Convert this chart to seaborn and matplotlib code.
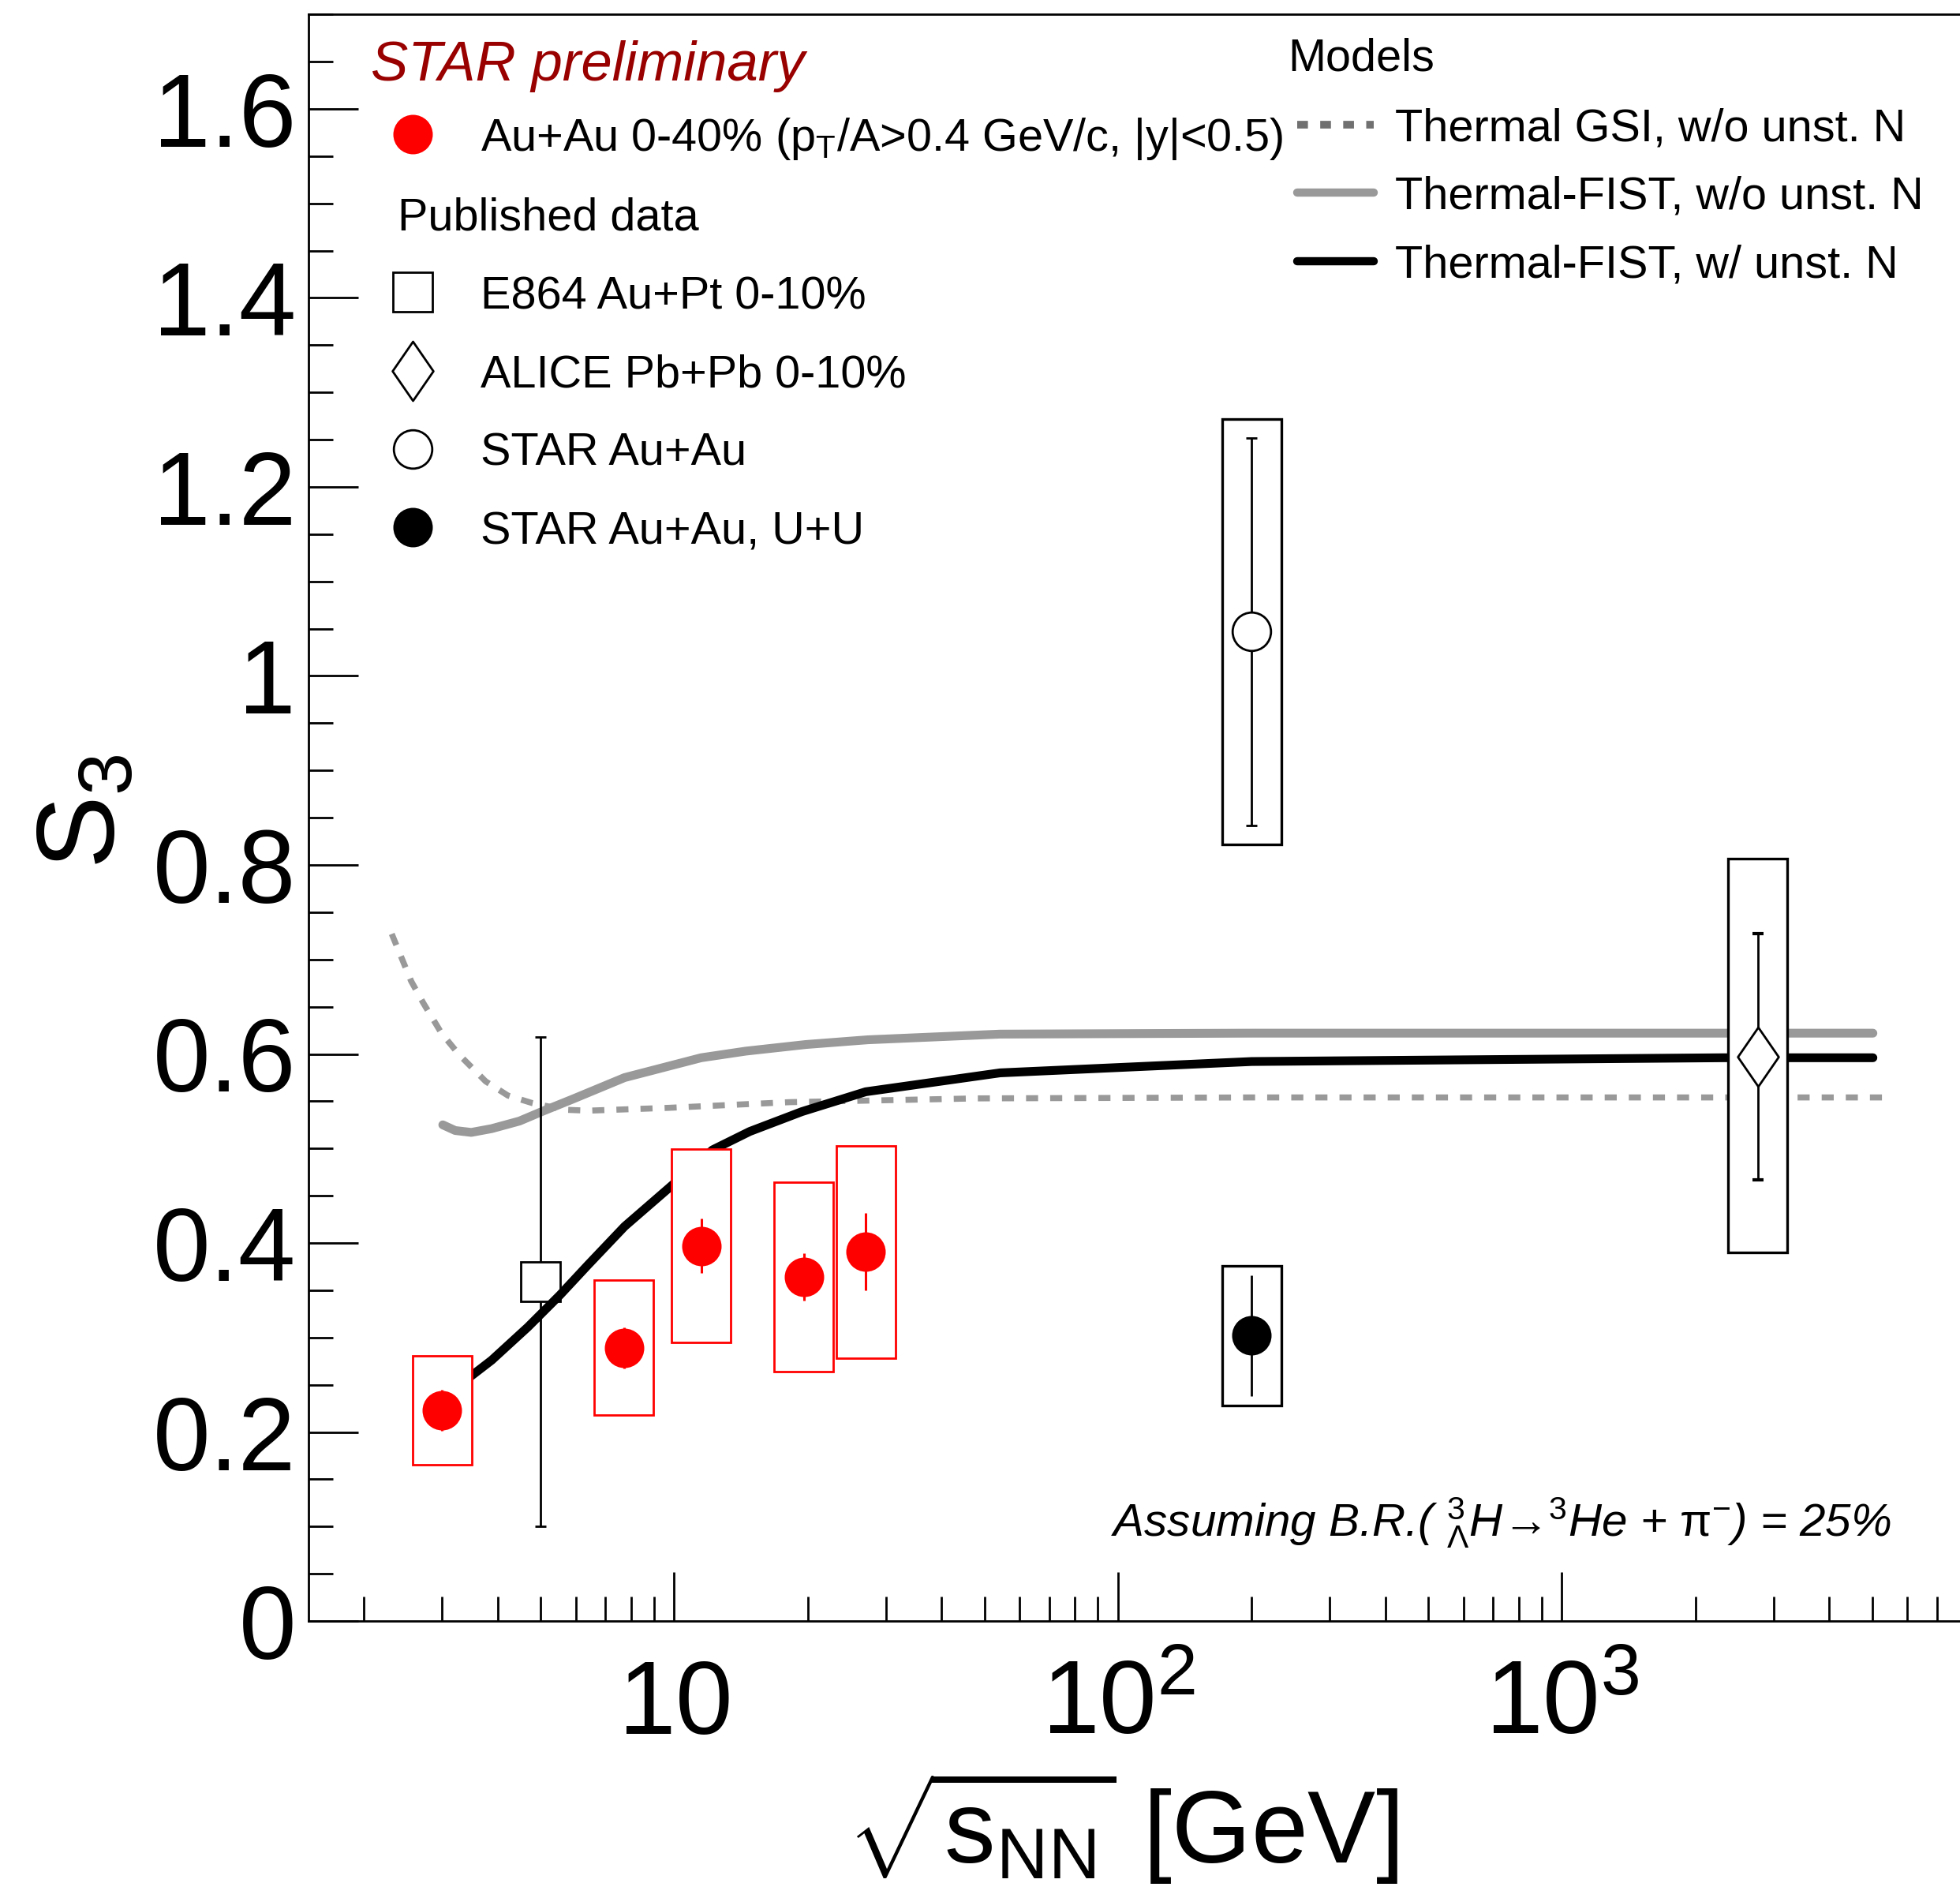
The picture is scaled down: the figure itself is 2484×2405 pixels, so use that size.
import matplotlib
matplotlib.use('Agg')
import matplotlib.pyplot as plt
import numpy as np
import seaborn as sns
from matplotlib.lines import Line2D
from matplotlib.path import Path
from matplotlib.ticker import MultipleLocator, FuncFormatter, LogLocator, NullFormatter

# STAR preliminary Au+Au 0-40%
star_x = [3.0, 7.7, 11.5, 19.6, 27.0]
star_y = [0.223, 0.289, 0.397, 0.364, 0.391]
star_stat = [0.022, 0.022, 0.029, 0.025, 0.041]
star_sys_lo = [0.165, 0.218, 0.295, 0.264, 0.278]
star_sys_hi = [0.281, 0.361, 0.499, 0.464, 0.503]

# published data
e864_x, e864_y, e864_err = [5.0], [0.359], [0.259]
alice_x, alice_y, alice_err = [2760.0], [0.597], [0.13]
alice_sys_lo, alice_sys_hi = [0.39], [0.807]
staro_x, staro_y, staro_err = [200.0], [1.047], [0.205]
staro_sys_lo, staro_sys_hi = [0.822], [1.272]
starf_x, starf_y, starf_err = [200.0], [0.302], [0.064]
starf_sys_lo, starf_sys_hi = [0.228], [0.376]

# models
gsi_x = [2.31, 2.555, 2.72, 2.99, 3.28, 3.76, 4.22, 4.79, 5.65, 6.40, 9.72, 18.2, 48.3, 200, 5400]
gsi_y = [0.727, 0.677, 0.654, 0.622, 0.599, 0.571, 0.556, 0.548, 0.541, 0.540, 0.543, 0.549, 0.553, 0.554, 0.554]
fist_wo_x = [3.01, 3.21, 3.49, 3.88, 4.48, 5.09, 5.89, 7.73, 11.5, 14.5, 19.8, 27.3, 54.2, 200, 5020]
fist_wo_y = [0.525, 0.519, 0.517, 0.521, 0.529, 0.540, 0.552, 0.575, 0.596, 0.603, 0.610, 0.615, 0.621, 0.622, 0.622]
fist_w_x = [3.46, 3.88, 4.68, 5.53, 6.40, 7.73, 9.72, 12.2, 14.8, 19.4, 27.0, 54.2, 200, 2311, 5020]
fist_w_y = [0.258, 0.276, 0.311, 0.345, 0.377, 0.4175, 0.458, 0.4985, 0.518, 0.539, 0.560, 0.580, 0.592, 0.596, 0.596]

sns.set_theme(style='ticks')
plt.rcParams['font.family'] = ['Liberation Sans', 'DejaVu Sans']
plt.rcParams.update({
    'mathtext.fontset': 'custom',
    'mathtext.rm': 'Liberation Sans',
    'mathtext.it': 'Liberation Sans:italic',
    'mathtext.bf': 'Liberation Sans:bold',
    'axes.edgecolor': 'black', 'text.color': 'black',
    'xtick.color': 'black', 'ytick.color': 'black',
})

W, H = 2484, 2405
fig = plt.figure(figsize=(W / 100, H / 100), dpi=100)
ax = fig.add_axes([391 / W, 351 / H, 2109 / W, 2035.75 / H])
ax.set_xscale('log')
ax.set_xlim(1.5, 8420)
ax.set_ylim(0, 1.7)

# model curves
sns.lineplot(x=gsi_x, y=gsi_y, ax=ax, color='#999999', lw=5.5, linestyle=(0, (2.0, 2.0)),
             estimator=None, sort=False, zorder=1.5)
sns.lineplot(x=fist_wo_x, y=fist_wo_y, ax=ax, color='#999999', lw=8,
             estimator=None, sort=False, zorder=1.6)
sns.lineplot(x=fist_w_x, y=fist_w_y, ax=ax, color='black', lw=8,
             estimator=None, sort=False, zorder=2.4)

# systematic boxes
f = 1.166


def sys_boxes(x, lo, hi, col, lw):
    x = np.array(x)
    lo = np.array(lo)
    hi = np.array(hi)
    ax.bar(x / f, hi - lo, width=x * f - x / f, bottom=lo, align='edge',
           facecolor='white', edgecolor=col, linewidth=lw, zorder=3)


sys_boxes(star_x, star_sys_lo, star_sys_hi, 'red', 2.0)
sys_boxes(alice_x, alice_sys_lo, alice_sys_hi, 'black', 2.4)
sys_boxes(staro_x, staro_sys_lo, staro_sys_hi, 'black', 2.4)
sys_boxes(starf_x, starf_sys_lo, starf_sys_hi, 'black', 2.4)

diamond = Path([(0, 1), (0.69, 0), (0, -1), (-0.69, 0), (0, 1)],
               [Path.MOVETO, Path.LINETO, Path.LINETO, Path.LINETO, Path.CLOSEPOLY])

ax.errorbar(star_x, star_y, yerr=star_stat, fmt='o', color='red', ms=36, mew=0,
            elinewidth=2.2, capsize=4.5, capthick=3, zorder=4)
ax.errorbar(e864_x, e864_y, yerr=e864_err, fmt='s', color='black', ms=36, mfc='white',
            mec='black', mew=2, elinewidth=2, capsize=5, capthick=3, zorder=2.2)
ax.errorbar(alice_x, alice_y, yerr=alice_err, fmt='none', ecolor='black',
            elinewidth=2, capsize=5, capthick=3, zorder=4)
ax.plot(alice_x, alice_y, ls='none', marker=diamond, ms=54, mfc='white', mec='black', mew=2, zorder=4.5)
ax.errorbar(staro_x, staro_y, yerr=staro_err, fmt='o', color='black', ms=35, mfc='white',
            mec='black', mew=2, elinewidth=2, capsize=5, capthick=3, zorder=4)
ax.errorbar(starf_x, starf_y, yerr=starf_err, fmt='o', color='black', ms=36, mew=0,
            elinewidth=2, capsize=5, capthick=3, zorder=4)

# axes styling
for s in ['left', 'bottom', 'top']:
    ax.spines[s].set_linewidth(2)
ax.spines['right'].set_visible(False)
ax.yaxis.set_major_locator(MultipleLocator(0.2))
ax.yaxis.set_minor_locator(MultipleLocator(0.05))
ax.yaxis.set_major_formatter(FuncFormatter(lambda v, p: f'{v:.1f}'.rstrip('0').rstrip('.') if v else '0'))
ax.xaxis.set_minor_locator(LogLocator(base=10, subs=np.arange(2, 10)))
ax.xaxis.set_minor_formatter(NullFormatter())
ax.set_xticks([10, 100, 1000], ['$10$', '$10^{2}$', '$10^{3}$'])
ax.tick_params(which='both', direction='in', top=False, right=False, width=2)
ax.tick_params(which='major', length=45, labelsize=94)
ax.tick_params(which='minor', length=22)
ax.tick_params(axis='y', which='major', pad=11.5)
ax.tick_params(axis='x', which='major', pad=103)
for t in ax.get_xticklabels():
    t.set_verticalalignment('baseline')

fig.text(1772 / W, 1 - 2361 / H, r'$\sqrt{\mathrm{s}_{\mathrm{NN}}}$ [GeV]', fontsize=93,
         ha='right', va='baseline')
fig.text(110 / W, 1 - 1028 / H, r'$\mathrm{S}_{3}$', fontsize=100, rotation=90,
         ha='center', va='center')

# legends
fs = 41.5
left_handles = [
    Line2D([], [], ls='none', marker='o', ms=36, mew=0, color='red'),
    Line2D([], [], ls='none'),
    Line2D([], [], ls='none', marker='s', ms=36, mfc='white', mec='black', mew=2),
    Line2D([], [], ls='none', marker=diamond, ms=54, mfc='white', mec='black', mew=2),
    Line2D([], [], ls='none', marker='o', ms=35, mfc='white', mec='black', mew=2),
    Line2D([], [], ls='none', marker='o', ms=36, mew=0, color='black'),
]
left_labels = [r'Au+Au 0-40% ($\mathrm{p}_{\mathrm{T}}$/A>0.4 GeV/c, |y|<0.5)', ' ',
               'E864 Au+Pt 0-10%', 'ALICE Pb+Pb 0-10%', 'STAR Au+Au', 'STAR Au+Au, U+U']
leg1 = ax.legend(left_handles, left_labels, loc='upper left', bbox_to_anchor=(0.0507, 0.937),
                 frameon=False, fontsize=fs, handlelength=0.88, handletextpad=1.04,
                 handleheight=0.77, labelspacing=0.786, borderpad=0, borderaxespad=0)
ax.add_artist(leg1)

right_handles = [
    Line2D([], [], color='#707070', lw=7, linestyle=(0, (1.4, 1.6))),
    Line2D([], [], color='#999999', lw=7.5),
    Line2D([], [], color='black', lw=7.5),
]
right_labels = ['Thermal GSI, w/o unst. N', 'Thermal-FIST, w/o unst. N', 'Thermal-FIST, w/ unst. N']
leg2 = ax.legend(right_handles, right_labels, loc='upper left', bbox_to_anchor=(0.5941, 0.942),
                 frameon=False, fontsize=fs, handlelength=1.69, handletextpad=0.46,
                 handleheight=0.77, labelspacing=0.566, borderpad=0, borderaxespad=0)

ax.text(0.0375, 0.9675, 'STAR preliminary', transform=ax.transAxes, color='#990000',
        style='italic', fontsize=51, ha='left', va='center')
ax.text(0.0536, 0.8733, 'Published data', transform=ax.transAxes, fontsize=fs,
        ha='left', va='center')
ax.text(0.5884, 0.9725, 'Models', transform=ax.transAxes, fontsize=fs, ha='left', va='center')
ax.text(0.951, 0.0526, r'Assuming B.R.( $^{3}_{\Lambda}$H→$^{3}$He + $\mathrm{\pi}^{-}$) = 25%',
        transform=ax.transAxes, fontsize=42, style='italic', ha='right', va='baseline')

fig.savefig('out.png', dpi=100)
